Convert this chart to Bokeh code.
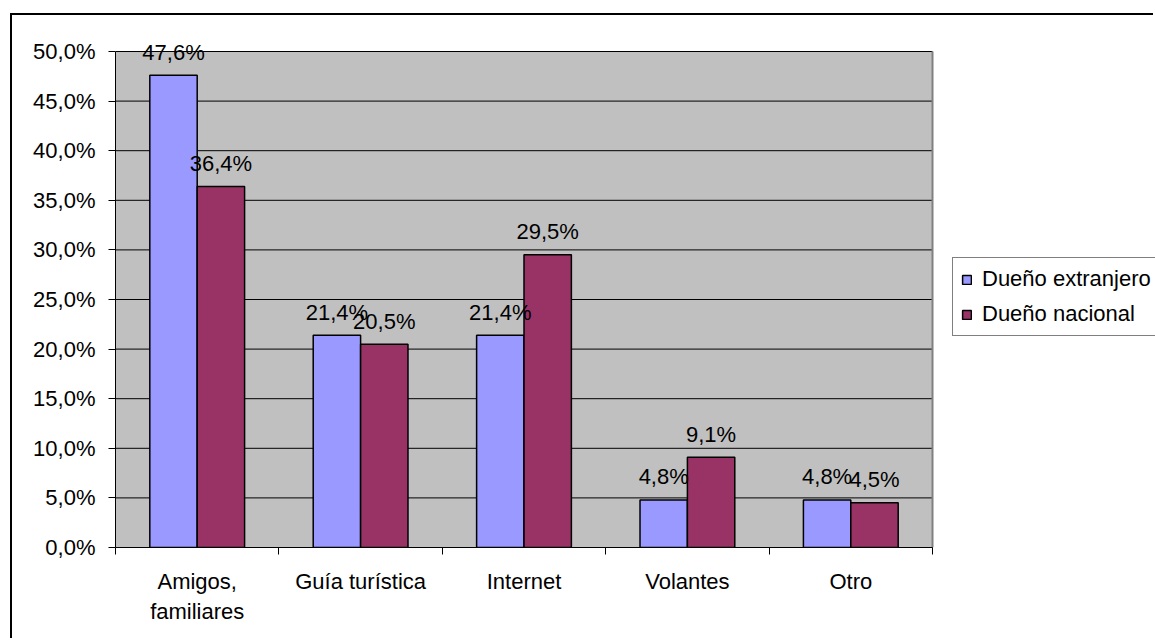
from bokeh.plotting import figure
from bokeh.models import (ColumnDataSource, FixedTicker, Legend, LegendItem, Range1d,
                          BoxAnnotation)
from bokeh.transform import dodge
from bokeh.core.properties import value
from bokeh.embed import file_html
from bokeh.resources import INLINE

categories = ["Amigos,\nfamiliares", "Guía turística", "Internet", "Volantes", "Otro"]
extranjero = [47.6, 21.4, 21.4, 4.8, 4.8]
nacional = [36.4, 20.5, 29.5, 9.1, 4.5]
series_names = ["Dueño extranjero", "Dueño nacional"]
y_ticks = [0, 5, 10, 15, 20, 25, 30, 35, 40, 45, 50]

FONT = "Liberation Sans"
FS = "22px"

n = len(categories)
ymax = y_ticks[-1] / 100
# canvas geometry (figure is offset 12px / 15px in page by margin + border)
W, H = 1143, 625
fl, fr_axis, fb, ft_axis = 103, 920, 532, 36   # plot-area edges in canvas px
x_end = n * (W - fl) / (fr_axis - fl)
y_end = ymax * fb / (fb - ft_axis)

pos = [i + 0.5 for i in range(n)]
fmt = lambda v: f"{v:.1f}".replace(".", ",") + "%"
src = ColumnDataSource(dict(
    x=pos,
    ext=[v / 100 for v in extranjero],
    nac=[v / 100 for v in nacional],
    ext_lbl=[fmt(v) for v in extranjero],
    nac_lbl=[fmt(v) for v in nacional],
))
grid_src = ColumnDataSource(dict(y=[t / 100 for t in y_ticks],
                                 x0=[0] * len(y_ticks), x1=[n] * len(y_ticks)))

p = figure(width=W, height=H, output_backend="svg", toolbar_location=None,
           x_range=Range1d(0, x_end), y_range=Range1d(0, y_end),
           min_border_left=fl, min_border_right=0, min_border_top=0,
           min_border_bottom=H - fb,
           styles={"margin-left": "10px", "margin-top": "13px",
                   "border-left": "2px solid black", "border-top": "2px solid black"})
p.background_fill_color = "white"
p.border_fill_color = "white"
p.outline_line_color = None
p.xgrid.visible = False
p.ygrid.visible = False

# plot area background
p.add_layout(BoxAnnotation(left=0, right=n, bottom=0, top=ymax, fill_color="#C0C0C0",
                           fill_alpha=1, line_color=None, level="underlay"))
# gridlines
p.segment(x0="x0", x1="x1", y0="y", y1="y", source=grid_src, line_color="black",
          line_width=1)
# right edge of plot area
p.segment(x0=[n], x1=[n], y0=[0], y1=[ymax], line_color="#808080", line_width=2)

bw = 0.29
r1 = p.vbar(x=dodge("x", -0.145, range=p.x_range), top="ext", width=bw, source=src,
            fill_color="#9999FF", line_color="black", line_width=1.5)
r2 = p.vbar(x=dodge("x", 0.145, range=p.x_range), top="nac", width=bw, source=src,
            fill_color="#993366", line_color="black", line_width=1.5)

for col, off in (("ext", -0.145), ("nac", 0.145)):
    p.text(x=dodge("x", off, range=p.x_range), y=col, text=col + "_lbl", source=src,
           text_align="center", text_baseline="alphabetic", y_offset=-23,
           text_font=value(FONT), text_font_size=FS, text_color="black")

# y axis
p.yaxis.bounds = (0, ymax)
p.yaxis.ticker = FixedTicker(ticks=[t / 100 for t in y_ticks])
p.yaxis.major_label_overrides = {t / 100: f"{t:.1f}".replace(".", ",") + "%" for t in y_ticks}
p.yaxis.major_tick_out = 7
p.yaxis.major_tick_in = 0
p.yaxis.minor_tick_out = 0
p.yaxis.minor_tick_in = 0
p.yaxis.major_label_standoff = 13

# x axis: labels at centres, ticks at boundaries (minor ticks)
p.xaxis.bounds = (0, n)
p.xaxis.ticker = FixedTicker(ticks=pos, minor_ticks=list(range(n + 1)))
p.xaxis.major_label_overrides = {x: c for x, c in zip(pos, categories)}
p.xaxis.major_tick_out = 0
p.xaxis.major_tick_in = 0
p.xaxis.minor_tick_out = 7
p.xaxis.minor_tick_in = 0
p.xaxis.minor_tick_line_color = "black"
p.xaxis.major_label_standoff = 14

for ax in (p.xaxis, p.yaxis):
    ax.axis_line_color = "black"
    ax.axis_line_width = 1
    ax.major_tick_line_color = "black"
    ax.major_label_text_font = FONT
    ax.major_label_text_font_size = FS
    ax.major_label_text_color = "black"

legend = Legend(items=[LegendItem(label=series_names[0], renderers=[r1]),
                       LegendItem(label=series_names[1], renderers=[r2])],
                location=(837, 211))
legend.glyph_width = 11
legend.glyph_height = 11
legend.label_standoff = 10
legend.label_text_font = FONT
legend.label_text_font_size = FS
legend.label_text_color = "black"
legend.spacing = 9
legend.padding = 8
legend.margin = 0
legend.border_line_color = "black"
legend.border_line_width = 1
legend.background_fill_color = "white"
legend.background_fill_alpha = 1
p.add_layout(legend, "center")

open("out.html", "w").write(file_html(p, INLINE))
